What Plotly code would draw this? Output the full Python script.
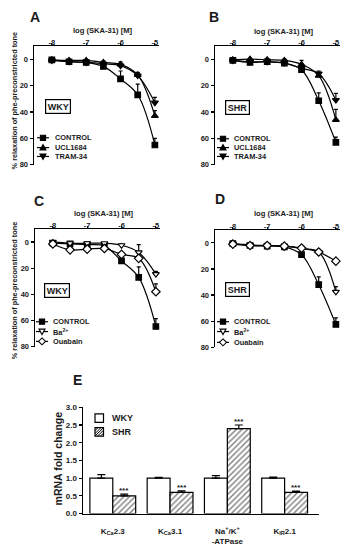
import plotly.graph_objects as go

W, H = 349, 550
FONT = "Liberation Sans, Arial, sans-serif"
INK = "#1a1a1a"

def fx(x):
    return x / W

def fy(y):
    return 1 - y / H

# ---------------- data ----------------
log_conc = [-8, -7.5, -7, -6.5, -6, -5.5, -5]
x_ticks = [-8, -7, -6, -5]
x_tick_text = ["-8", "-7", "-6", "-5"]
y_ticks = [0, 20, 40, 60, 80]

# Panel A (WKY)
a_control = [0.5, 2, 2.5, 5.5, 15, 27, 65]
a_control_err = [0.5, 1, 1, 1.5, 6, 8, 5]
a_ucl = [0.5, 1, 1, 2.5, 4, 12, 43]
a_ucl_err = [0.5, 0.5, 0.5, 1, 2, 2, 4]
a_tram = [1, 2, 2.5, 3.5, 5, 12.5, 33]
a_tram_err = [0.5, 0.5, 0.5, 1, 2, 2, 4]

# Panel B (SHR)
b_control = [1, 2.5, 2, 3, 8, 31.5, 63]
b_control_err = [0.5, 1, 1, 1, 3, 6, 4]
b_ucl = [0.5, 0, 0.5, 1, 4, 12.5, 46]
b_ucl_err = [0.5, 0.5, 0.5, 1, 3, 2, 8]
b_tram = [1, 2, 2, 3, 7, 11, 31]
b_tram_err = [0.5, 0.5, 0.5, 1, 2, 2, 5]

# Panel C (WKY)
c_control = [1, 1.5, 2, 3, 14.5, 27, 64.5]
c_control_err = [0.5, 0.5, 0.5, 1, 2, 8, 6]
c_ba = [0, 1, 1, 1, 2.5, 8, 24.5]
c_ba_err = [0.5, 0.5, 0.5, 0.5, 1, 6, 2]
c_oua = [1.5, 6, 5.5, 5, 9.5, 12.5, 38]
c_oua_err = [0.5, 1, 1, 1, 1, 2, 6]

# Panel D (SHR)
d_control = [0.5, 2, 2.5, 3, 9, 32, 62.5]
d_control_err = [0.5, 0.5, 0.5, 0.5, 1, 6, 5]
d_ba = [0.5, 1.5, 2, 2.5, 4.5, 7, 37.5]
d_ba_err = [0.5, 0.5, 0.5, 0.5, 2, 2, 4]
d_oua = [1, 2, 2, 2.5, 4, 7, 14]
d_oua_err = [0.5, 0.5, 0.5, 0.5, 1, 1, 2]

# Panel E (mRNA)
genes = ["K<sub>Ca</sub>2.3", "K<sub>Ca</sub>3.1",
         "Na<sup>+</sup>/K<sup>+</sup><br>-ATPase", "K<sub>IR</sub>2.1"]
wky = [1.0, 1.0, 1.0, 1.0]
wky_err = [0.1, 0.02, 0.07, 0.03]
shr = [0.5, 0.6, 2.4, 0.6]
shr_err = [0.05, 0.04, 0.1, 0.03]
sig = ["***", "***", "***", "***"]

fig = go.Figure()

def ax(n, kind):
    return kind if n == 1 else f"{kind}{n}"

def add_dr(n, y, err, symbol, fill, size):
    fig.add_trace(go.Scatter(
        x=log_conc, y=y, mode="lines+markers",
        xaxis=ax(n, "x"), yaxis=ax(n, "y"),
        line=dict(color="black", width=1.2, shape="spline", smoothing=1),
        marker=dict(symbol=symbol, size=size, color=fill,
                    line=dict(color="black", width=1.2)),
        error_y=dict(type="data", symmetric=False, array=[0] * len(err),
                     arrayminus=err, color="black", thickness=1.2, width=2),
        cliponaxis=False, showlegend=False))

add_dr(1, a_ucl, a_ucl_err, "triangle-up", "black", 6)
add_dr(1, a_tram, a_tram_err, "triangle-down", "black", 6)
add_dr(1, a_control, a_control_err, "square", "black", 5.5)
add_dr(2, b_ucl, b_ucl_err, "triangle-up", "black", 6)
add_dr(2, b_tram, b_tram_err, "triangle-down", "black", 6)
add_dr(2, b_control, b_control_err, "square", "black", 5.5)
add_dr(3, c_control, c_control_err, "square", "black", 5.5)
add_dr(3, c_ba, c_ba_err, "triangle-down", "white", 6)
add_dr(3, c_oua, c_oua_err, "diamond", "white", 6.5)
add_dr(4, d_control, d_control_err, "square", "black", 5.5)
add_dr(4, d_ba, d_ba_err, "triangle-down", "white", 6)
add_dr(4, d_oua, d_oua_err, "diamond", "white", 6.5)

fig.add_trace(go.Bar(
    x=genes, y=wky, xaxis="x5", yaxis="y5", name="WKY",
    marker=dict(color="white", line=dict(color="black", width=1.2)),
    error_y=dict(type="data", symmetric=False, array=wky_err,
                 arrayminus=[0] * 4, color="black", thickness=1.2, width=4),
    showlegend=False))
fig.add_trace(go.Bar(
    x=genes, y=shr, xaxis="x5", yaxis="y5", name="SHR",
    marker=dict(color="white", line=dict(color="black", width=1.2),
                pattern=dict(shape="/", size=4, solidity=0.35,
                             fgcolor="black", bgcolor="white")),
    error_y=dict(type="data", symmetric=False, array=shr_err,
                 arrayminus=[0] * 4, color="black", thickness=1.2, width=4),
    showlegend=False))

tickfont = dict(family=FONT, size=7.5, color=INK, weight="bold")

def dr_axes(n, x0, x1, ytop, ybot):
    xa = dict(domain=[fx(x0), fx(x1)], range=[-8.52, -4.88], side="top",
              anchor=ax(n, "y"), showline=True, linecolor="black",
              linewidth=1.5, ticks="outside", ticklen=2, tickwidth=1.2,
              tickcolor="black", tickvals=x_ticks, ticktext=x_tick_text,
              tickfont=tickfont, ticklabelstandoff=-5,
              showgrid=False, zeroline=False)
    ya = dict(domain=[fy(ybot), fy(ytop)], range=[80, -9.7],
              anchor=ax(n, "x"), showline=True, linecolor="black",
              linewidth=1.5, ticks="outside", ticklen=3, tickwidth=1.2,
              tickcolor="black", tickvals=y_ticks, tickfont=tickfont,
              showgrid=False, zeroline=False)
    return xa, ya

layout = dict(width=W, height=H, margin=dict(l=0, r=0, t=0, b=0),
              paper_bgcolor="white", plot_bgcolor="white",
              showlegend=False, barmode="group", bargap=0.2, bargroupgap=0,
              font=dict(family=FONT, color=INK))

panels = {1: (34, 159, 43, 163.5), 2: (215, 340, 43, 163.5),
          3: (35, 160, 229, 348.5), 4: (215, 340, 230, 349)}
for n, (x0, x1, yt, yb) in panels.items():
    xa, ya = dr_axes(n, x0, x1, yt, yb)
    layout["xaxis" if n == 1 else f"xaxis{n}"] = xa
    layout["yaxis" if n == 1 else f"yaxis{n}"] = ya

layout["xaxis5"] = dict(domain=[fx(83), fx(319)], range=[-0.52, 3.6],
                        anchor="y5", showline=True, linecolor="black",
                        linewidth=1.5, ticks="outside", ticklen=9,
                        tickcolor="rgba(0,0,0,0)",
                        tickfont=dict(family=FONT, size=8, color=INK, weight="bold"),
                        showgrid=False, zeroline=False)
layout["yaxis5"] = dict(domain=[fy(518), fy(410)], range=[0, 3],
                        anchor="x5", showline=True, linecolor="black",
                        linewidth=1.5, ticks="outside", ticklen=3, tickwidth=1.2,
                        tickcolor="black", dtick=0.5, tickformat=".1f",
                        tickfont=dict(family=FONT, size=8, color=INK, weight="bold"),
                        showgrid=False, zeroline=False)

fig.update_layout(**layout)

ann = []
shapes = []

def text(x, y, s, size, xanchor="center", angle=0, **kw):
    ann.append(dict(x=fx(x), y=fy(y), xref="paper", yref="paper", text=s,
                    showarrow=False, xanchor=xanchor, yanchor="middle",
                    textangle=angle,
                    font=dict(family=FONT, size=size, color=INK, weight="bold"),
                    **kw))

# panel letters
for (lx, ly, s) in [(35, 13, "A"), (214, 13, "B"), (39, 200, "C"),
                    (220, 198, "D"), (77, 382, "E")]:
    text(lx, ly, s, 14)

# x titles, centred over the middle of the dose range
for n, ty in [(1, 27), (2, 28), (3, 213), (4, 213)]:
    ann.append(dict(x=-6.5, xref=ax(n, "x"), y=fy(ty), yref="paper",
                    text="log (SKA-31) [M]", showarrow=False,
                    xanchor="center", yanchor="middle",
                    font=dict(family=FONT, size=7.6, color=INK, weight="bold")))

# y titles
ytitle = "% relaxation of phe-preconstricted tone"
text(14, 99, ytitle, 7.3, angle=-90)
text(14, 292, ytitle, 7.3, angle=-90)
text(58, 462, "mRNA fold change", 10.5, angle=-90)

# strain boxes
for (bx, by, s) in [(58, 104, "WKY"), (237, 105, "SHR"),
                    (57, 291, "WKY"), (237, 290, "SHR")]:
    ann.append(dict(x=fx(bx), y=fy(by), xref="paper", yref="paper", text=s,
                    showarrow=False, xanchor="center", yanchor="middle",
                    bordercolor="black", borderwidth=1.2, borderpad=1.5,
                    bgcolor="white",
                    font=dict(family=FONT, size=9, color=INK, weight="bold")))

def poly(pts, fill):
    path = "M " + " L ".join(f"{fx(px):.5f},{fy(py):.5f}" for px, py in pts) + " Z"
    shapes.append(dict(type="path", xref="paper", yref="paper", path=path,
                       fillcolor=fill, line=dict(color="black", width=1.1)))

# legend glyphs (dose-response panels)
def glyph(kind, x, y):
    shapes.append(dict(type="line", xref="paper", yref="paper",
                       x0=fx(x - 6), x1=fx(x + 6), y0=fy(y), y1=fy(y),
                       line=dict(color="black", width=1.2)))
    if kind == "square":
        poly([(x - 2.6, y - 2.6), (x + 2.6, y - 2.6), (x + 2.6, y + 2.6),
              (x - 2.6, y + 2.6)], "black")
    elif kind == "up":
        poly([(x - 3, y + 2.5), (x + 3, y + 2.5), (x, y - 3)], "black")
    elif kind == "down":
        poly([(x - 3, y - 2.5), (x + 3, y - 2.5), (x, y + 3)], "black")
    elif kind == "down_open":
        poly([(x - 3, y - 2.5), (x + 3, y - 2.5), (x, y + 3)], "white")
    else:
        poly([(x, y - 3.5), (x + 3.5, y), (x, y + 3.5), (x - 3.5, y)], "white")

legend_ab = ["CONTROL", "UCL1684", "TRAM-34"]
legend_cd = ["CONTROL", "Ba<sup>2+</sup>", "Ouabain"]

for (mx, tx, rows) in [(43, 53, [136, 146, 155]), (223, 232, [137, 146, 155])]:
    for kind, r, lab in zip(["square", "up", "down"], rows, legend_ab):
        glyph(kind, mx, r)
        text(tx, r, lab, 7.4, xanchor="left")

for (mx, tx, rows) in [(42, 51, [323, 333, 343]), (223, 232, [323, 333, 344])]:
    for kind, r, lab in zip(["square", "down_open", "diamond"], rows, legend_cd):
        glyph(kind, mx, r)
        text(tx, r, lab, 7.4, xanchor="left")

# panel E legend
s = 8.5
for (ly, lab, hatched) in [(421, "WKY", False), (435, "SHR", True)]:
    x0, y0 = 95, ly - s / 2
    shapes.append(dict(type="rect", xref="paper", yref="paper",
                       x0=fx(x0), x1=fx(x0 + s), y0=fy(y0), y1=fy(y0 + s),
                       fillcolor="white", line=dict(color="black", width=1.2)))
    if hatched:
        lines = [(0, 0.35, 0.35, 0), (0, 0.7, 0.7, 0), (0, 1.0, 1.0, 0),
                 (0.3, 1.0, 1.0, 0.3), (0.65, 1.0, 1.0, 0.65)]
        for (u0, v0, u1, v1) in lines:
            shapes.append(dict(type="line", xref="paper", yref="paper",
                               x0=fx(x0 + u0 * s), y0=fy(y0 + v0 * s),
                               x1=fx(x0 + u1 * s), y1=fy(y0 + v1 * s),
                               line=dict(color="black", width=1)))
    text(110, ly, lab, 9, xanchor="left")

# significance marks above SHR bars
for i, (v, e, t) in enumerate(zip(shr, shr_err, sig)):
    ann.append(dict(x=i + 0.2, xref="x5", y=v + e + 0.1, yref="y5",
                    text=t, showarrow=False, xanchor="center", yanchor="middle",
                    font=dict(family=FONT, size=8, color=INK, weight="bold")))

fig.update_layout(annotations=ann, shapes=shapes)
fig.write_html("out.html",
               config={"displayModeBar": False, "staticPlot": True},
               post_script="document.body.style.margin='0';"
                           "document.body.style.overflow='hidden';")
